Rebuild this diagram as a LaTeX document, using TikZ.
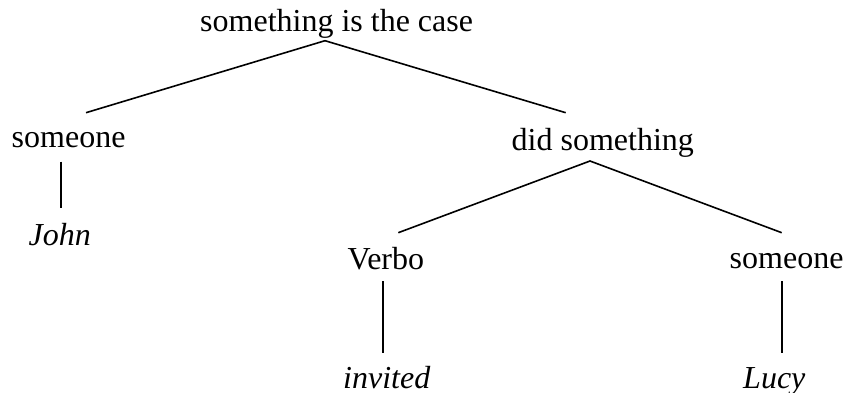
\documentclass[tikz,border=0pt]{standalone}
\usepackage{fontspec}
\setmainfont{Liberation Serif}
\begin{document}
\begin{tikzpicture}[x=1pt,y=-1pt,
  lbl/.style={inner sep=0pt,anchor=base west,font=\fontsize{32}{38}\selectfont},
  ilbl/.style={lbl,font=\fontsize{32}{38}\selectfont\itshape},
  edge/.style={draw,line width=1.6pt}]
\useasboundingbox (0,0) rectangle (846,393);
% labels
\node[lbl] (root) at (200,31.7) {something is the case};
\node[lbl] (s1) at (11.5,147.7) {someone};
\node[ilbl] (john) at (28.5,245.7) {John};
\node[lbl] (did) at (511.5,150) {did something};
\node[lbl] (verbo) at (347.5,269.3) {Verbo};
\node[ilbl] (invited) at (343,388) {invited};
\node[lbl] (s2) at (729.5,268.3) {someone};
\node[ilbl] (lucy) at (743,388) {Lucy};
% connector end points
\coordinate (rootB) at (325,40.7);
\coordinate (s1T) at (86,112.7);
\coordinate (didT) at (565.7,112.7);
\coordinate (s1B) at (61,161.7);
\coordinate (johnT) at (61,208.3);
\coordinate (didB) at (590,161);
\coordinate (verboT) at (398.3,232.7);
\coordinate (s2T) at (781.7,232.7);
\coordinate (verboB) at (382.7,281);
\coordinate (invitedT) at (382.7,352.7);
\coordinate (s2B) at (781.7,281);
\coordinate (lucyT) at (781.7,352.7);
% connectors
\draw[edge] (s1T) -- (rootB) -- (didT);
\draw[edge] (s1B) -- (johnT);
\draw[edge] (verboT) -- (didB) -- (s2T);
\draw[edge] (verboB) -- (invitedT);
\draw[edge] (s2B) -- (lucyT);
\end{tikzpicture}
\end{document}
